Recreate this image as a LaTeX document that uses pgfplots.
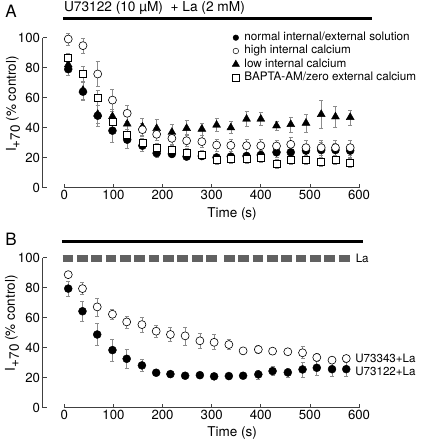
\documentclass[border=0pt]{standalone}
\usepackage{fontspec}
\setmainfont{TeX Gyre Heros}
\usepackage{pgfplots}
\pgfplotsset{compat=1.18}
\usepackage{pgfplotstable}

% Panel A
\pgfplotstableread{
t v e
8 79 4
38 64 6
68 48 7
98 38 7.5
128 32 5.5
159 28 4
188 23 2.5
219 22.5 2
249 20.7 2
280 21.1 2
310 20.2 2
339 20.7 2
371 21.1 2.5
400 21.8 3
432 23.6 3.5
461 23.6 3
492 24.7 4.5
523 25.1 5
552 25.1 4.5
582 24.7 4.5
}\Anormal
\pgfplotstableread{
t v e
8 99.1 4
38 94.7 5
68 75.8 8.5
98 58.4 7.5
128 49.6 5.5
159 38.7 4
188 35.6 4
219 32.9 4
249 31.3 4
280 30.7 4
310 28.4 4
339 28.2 4
371 28 4.5
400 28 4
432 27.8 4
461 28.9 5
492 26.7 5
523 26.7 5
552 26.7 5
582 26.7 5
}\Ahigh
\pgfplotstableread{
t v e
8 82 4
38 65 6
68 49 6
98 47.5 5
128 42.5 5
159 40.5 6
188 39.5 6
219 37 5
249 39.6 5
280 39.1 4
310 41.8 4.5
339 40 4
371 45.8 5
400 45.8 4.5
432 41.3 3
461 42.2 5
492 43.1 6
523 48.9 9.5
552 47.3 7
582 46.9 5
}\Alow
\pgfplotstableread{
t v e
8 86.7 3
38 75.6 5
68 60 5
98 44 5
128 35.1 4
159 30 3
188 26.7 3
219 25.1 3
249 23.3 3
280 22.2 3
310 18.4 3
339 19.1 3
371 19.1 3
400 20 3
432 15.8 3
461 18.4 3
492 18.4 3
523 17.3 3
552 18.4 3
582 16.7 3
}\Abapta
% Panel B
\pgfplotstableread{
t v e
8 88.7 2
37 79.4 4
67 67.2 6
98 62.3 3.5
127 57.2 4
158 55.4 5
187 51 4
216 48.8 4.5
246 47.9 6
276 44.6 5
305 43.6 5
335 42.1 3.5
364 37.9 2
395 38.8 2.5
424 37.7 2
455 37.3 2
485 36.6 4
514 33.5 2.5
545 31.7 2
574 32.8 2
}\Bopen
\pgfplotstableread{
t v e
8 79.4 5
37 64.3 6.4
67 48.8 7.5
98 38.4 7.4
127 32.6 6
158 28.2 4
187 23.3 2
216 22.4 2
246 21.3 2
276 21.7 2
305 20.9 2
335 21.1 2
364 21.3 2
395 22.2 3
424 24.4 3
455 23.5 3
485 25.5 5
514 26.6 5
545 25.7 4.5
574 25.7 4.5
}\Bfilled

\pgfplotsset{
  panel/.style={
    x=0.4912pt, y=1.5pt,
    xmin=-44, xmax=600, ymin=0, ymax=100,
    axis x line=bottom, axis y line=left,
    x axis line style={-, black!75, line width=0.8pt, shorten <=21.61pt},
    y axis line style={-, black!75, line width=0.8pt},
    tick align=inside, major tick length=4pt,
    tick style={black!75, line width=0.7pt},
    xtick={0,100,...,600}, ytick={0,20,...,100},
    clip=false,
    /pgf/number format/assume math mode=true,
    ticklabel style={font=\fontsize{13.2}{16}\selectfont},
    xticklabel style={inner sep=2.5pt},
    yticklabel style={inner sep=2.5pt},
    label style={font=\fontsize{13.5}{16}\selectfont},
  },
  errb/.style={error bars/.cd, y dir=both, y explicit,
    error bar style={black!45, line width=0.6pt},
    error mark options={rotate=90, mark size=2pt, black!45, line width=0.6pt}},
  filledc/.style={only marks, mark=*, mark size=4pt, mark options={draw=black, fill=black}},
  openc/.style={only marks, mark=*, mark size=4pt, mark options={draw=black, fill=white, line width=0.6pt}},
  tri/.style={only marks, mark=triangle*, mark size=4.6pt, mark options={draw=black, fill=black}},
  sq/.style={only marks, mark=square*, mark size=3.5pt, mark options={draw=black, fill=white, line width=0.6pt}},
}

\begin{document}
\begin{tikzpicture}
\path[use as bounding box] (0pt,0pt) rectangle (420pt,441pt);

% ---------- Panel A ----------
\begin{axis}[panel, at={(42.7pt,253.3pt)}, anchor=south west,
  xlabel={Time (s)},
  xlabel style={at={(axis cs:341.4,-17.7)}, anchor=center},
  ylabel={I\raisebox{-0.3em}{+70} (\% control)},
  ylabel style={at={(axis cs:-104.4,55.8)}, anchor=center},
  legend style={at={(axis cs:341.4,103.8)}, anchor=north west, draw=none, fill=none,
    font=\fontsize{11.7}{13}\selectfont, row sep=2.3pt, inner sep=0pt, column sep=5pt,
    nodes={inner sep=0pt, text height=8.5pt, text depth=2.5pt}},
  legend cell align=left,
  legend image code/.code={\draw[mark repeat=2, mark phase=2, #1] plot coordinates {(0pt,0pt)(4pt,0pt)(8pt,0pt)};},
]
\addlegendimage{only marks, mark=*, mark size=2.8pt, mark options={draw=black, fill=black}}
\addlegendentry{normal internal/external solution}
\addlegendimage{only marks, mark=*, mark size=2.8pt, mark options={draw=black, fill=white, line width=0.5pt}}
\addlegendentry{high internal calcium}
\addlegendimage{only marks, mark=triangle*, mark size=4.2pt, mark options={draw=black, fill=black}}
\addlegendentry{low internal calcium}
\addlegendimage{only marks, mark=square*, mark size=3.3pt, mark options={draw=black, fill=white, line width=0.5pt}}
\addlegendentry{BAPTA-AM/zero external calcium}

\addplot[forget plot, filledc, errb] table[x=t, y=v, y error=e] {\Anormal};
\addplot[forget plot, tri, errb] table[x=t, y=v, y error=e] {\Alow};
\addplot[forget plot, openc, errb] table[x=t, y=v, y error=e] {\Ahigh};
\addplot[forget plot, sq, errb] table[x=t, y=v, y error=e] {\Abapta};

\draw[line width=3pt] (axis cs:-2,112.5) -- (axis cs:626,112.5);
\node[anchor=west, font=\fontsize{13.7}{16}\selectfont, inner sep=0pt] at (axis cs:-1,119.6) {U73122 (10 µM)\ \ + La (2 mM)};
\end{axis}

% ---------- Panel B ----------
\begin{axis}[panel, at={(42.7pt,33.3pt)}, anchor=south west,
  xlabel={Time (s)},
  xlabel style={at={(axis cs:341.4,-17.2)}, anchor=center},
  ylabel={I\raisebox{-0.3em}{+70} (\% control)},
  ylabel style={at={(axis cs:-106.4,56.3)}, anchor=center},
]
\addplot[openc, errb] table[x=t, y=v, y error=e] {\Bopen};
\addplot[filledc, errb] table[x=t, y=v, y error=e] {\Bfilled};

\draw[line width=3pt] (axis cs:-5,111) -- (axis cs:609,111);
\draw[line width=7.5pt, color=black!62, dash pattern=on 10.7pt off 3.65pt] (axis cs:-3.3,99.3) -- (axis cs:310.7,99.3);
\draw[line width=7.5pt, color=black!62, dash pattern=on 10.7pt off 3.65pt] (axis cs:325.1,99.3) -- (axis cs:580.6,99.3);
\node[anchor=west, font=\fontsize{11.6}{13}\selectfont, inner sep=0pt] at (axis cs:593,99.3) {La};
\node[anchor=west, font=\fontsize{11.6}{13}\selectfont, inner sep=0pt] at (axis cs:592,32.8) {U73343+La};
\node[anchor=west, font=\fontsize{11.6}{13}\selectfont, inner sep=0pt] at (axis cs:592,23.9) {U73122+La};
\end{axis}

\node[font=\fontsize{17}{19}\selectfont, inner sep=0pt] at (11pt,429.8pt) {A};
\node[font=\fontsize{17}{19}\selectfont, inner sep=0pt] at (11pt,202pt) {B};
\end{tikzpicture}
\end{document}
